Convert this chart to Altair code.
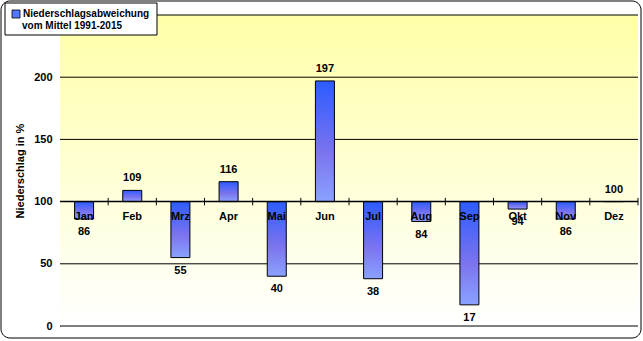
import altair as alt
import pandas as pd

months = ["Jan", "Feb", "Mrz", "Apr", "Mai", "Jun", "Jul", "Aug", "Sep", "Okt", "Nov", "Dez"]
values = [86, 109, 55, 116, 40, 197, 38, 84, 17, 94, 86, 100]
grid_values = [0, 50, 150, 200]
y_ticks = [0, 50, 100, 150, 200]

W, H = 578, 311
FONT = "Liberation Sans"

df = pd.DataFrame({"month": months, "value": values, "base": [100] * 12})
df["lab"] = df["value"].astype(str)

xs = alt.X("month:N", sort=months, scale=alt.Scale(paddingInner=0, paddingOuter=0), axis=None)
ys = alt.Scale(domain=[0, 250], nice=False, zero=True)

bg = alt.Chart(pd.DataFrame({"a": [0]})).mark_rect(
    fill=alt.Gradient(gradient="linear", x1=0, y1=0, x2=0, y2=1,
                      stops=[alt.GradientStop(color="#ffffa8", offset=0),
                             alt.GradientStop(color="#ffffff", offset=1)])
).encode(x=alt.value(0), x2=alt.value(W), y=alt.value(0), y2=alt.value(H))

grid = alt.Chart(pd.DataFrame({"g": grid_values})).mark_rule(color="black", strokeWidth=1).encode(
    y=alt.Y("g:Q", scale=ys, axis=alt.Axis(values=y_ticks, title="Niederschlag in %", grid=False,
                                           ticks=False, domain=True, domainColor="black",
                                           labelFont=FONT, labelFontWeight="bold", labelFontSize=11,
                                           labelColor="black", labelPadding=8,
                                           titleFont=FONT, titleFontWeight="bold", titleFontSize=11,
                                           titleColor="black", titlePadding=8)),
    x=alt.value(0), x2=alt.value(W))

axis100 = alt.Chart(pd.DataFrame({"g": [100]})).mark_rule(color="black", strokeWidth=1.5).encode(
    y=alt.Y("g:Q", scale=ys), x=alt.value(0), x2=alt.value(W))

ticks = alt.Chart(df).mark_rule(color="black", strokeWidth=1, xOffset=W / 24).encode(
    x=xs, y=alt.Y("t1:Q", scale=ys), y2=alt.Y2("t2:Q")).transform_calculate(
    t1="datum.base + 3", t2="datum.base - 3")

top = alt.Chart(pd.DataFrame({"a": [0]})).mark_rule(color="black").encode(
    x=alt.value(0), x2=alt.value(W), y=alt.value(0))

bars = alt.Chart(df).mark_bar(
    size=19, stroke="black", strokeWidth=1,
    fill=alt.Gradient(gradient="linear", x1=0, y1=0, x2=0, y2=1,
                      stops=[alt.GradientStop(color="#2c5cff", offset=0),
                             alt.GradientStop(color="#7c74ee", offset=0.6),
                             alt.GradientStop(color="#8aa2ff", offset=1)])
).encode(x=xs, y=alt.Y("value:Q", scale=ys), y2="base:Q")

mlabels = alt.Chart(df).mark_text(font=FONT, fontWeight="bold", fontSize=11, color="black", dy=15).encode(
    x=xs, y=alt.Y("base:Q", scale=ys), text="month:N")

vlab_up = alt.Chart(df).transform_filter("datum.value >= 100").mark_text(
    font=FONT, fontWeight="bold", fontSize=11, color="black", dy=-12).encode(
    x=xs, y=alt.Y("value:Q", scale=ys), text="lab:N")
vlab_dn = alt.Chart(df).transform_filter("datum.value < 100").mark_text(
    font=FONT, fontWeight="bold", fontSize=11, color="black", dy=13).encode(
    x=xs, y=alt.Y("value:Q", scale=ys), text="lab:N")

outer = alt.Chart(pd.DataFrame({"a": [0]})).mark_rect(
    fill=None, stroke="black", strokeWidth=1, cornerRadius=9).encode(
    x=alt.value(-59), x2=alt.value(581), y=alt.value(-14), y2=alt.value(323))

legbox = alt.Chart(pd.DataFrame({"a": [0]})).mark_rect(
    fill="white", stroke="black", strokeWidth=1).encode(
    x=alt.value(-55), x2=alt.value(97), y=alt.value(-12), y2=alt.value(20))
legsym = alt.Chart(pd.DataFrame({"a": [0]})).mark_rect(
    fill="#5577ff", stroke="black", strokeWidth=0.8).encode(
    x=alt.value(-48), x2=alt.value(-40), y=alt.value(-5), y2=alt.value(3))
legtext = alt.Chart(pd.DataFrame({"t": ["Niederschlagsabweichung", "vom Mittel 1991-2015"],
                                  "yy": [-1, 11], "xx": [-37, -38]})).mark_text(
    font=FONT, fontWeight="bold", fontSize=10, color="black", align="left", baseline="middle").encode(
    x=alt.X("xx:Q", scale=None), y=alt.Y("yy:Q", scale=None), text="t:N")

chart = alt.layer(bg, grid, bars, axis100, ticks, top, mlabels, vlab_up, vlab_dn,
                  outer, legbox, legsym, legtext).properties(
    width=W, height=H, autosize=alt.AutoSizeParams(type="none"),
    padding={"left": 60, "top": 15, "right": 5, "bottom": 15},
    background="white"
).configure_view(stroke=None)

chart.save("out.html", embed_options={"renderer": "svg", "actions": False})
